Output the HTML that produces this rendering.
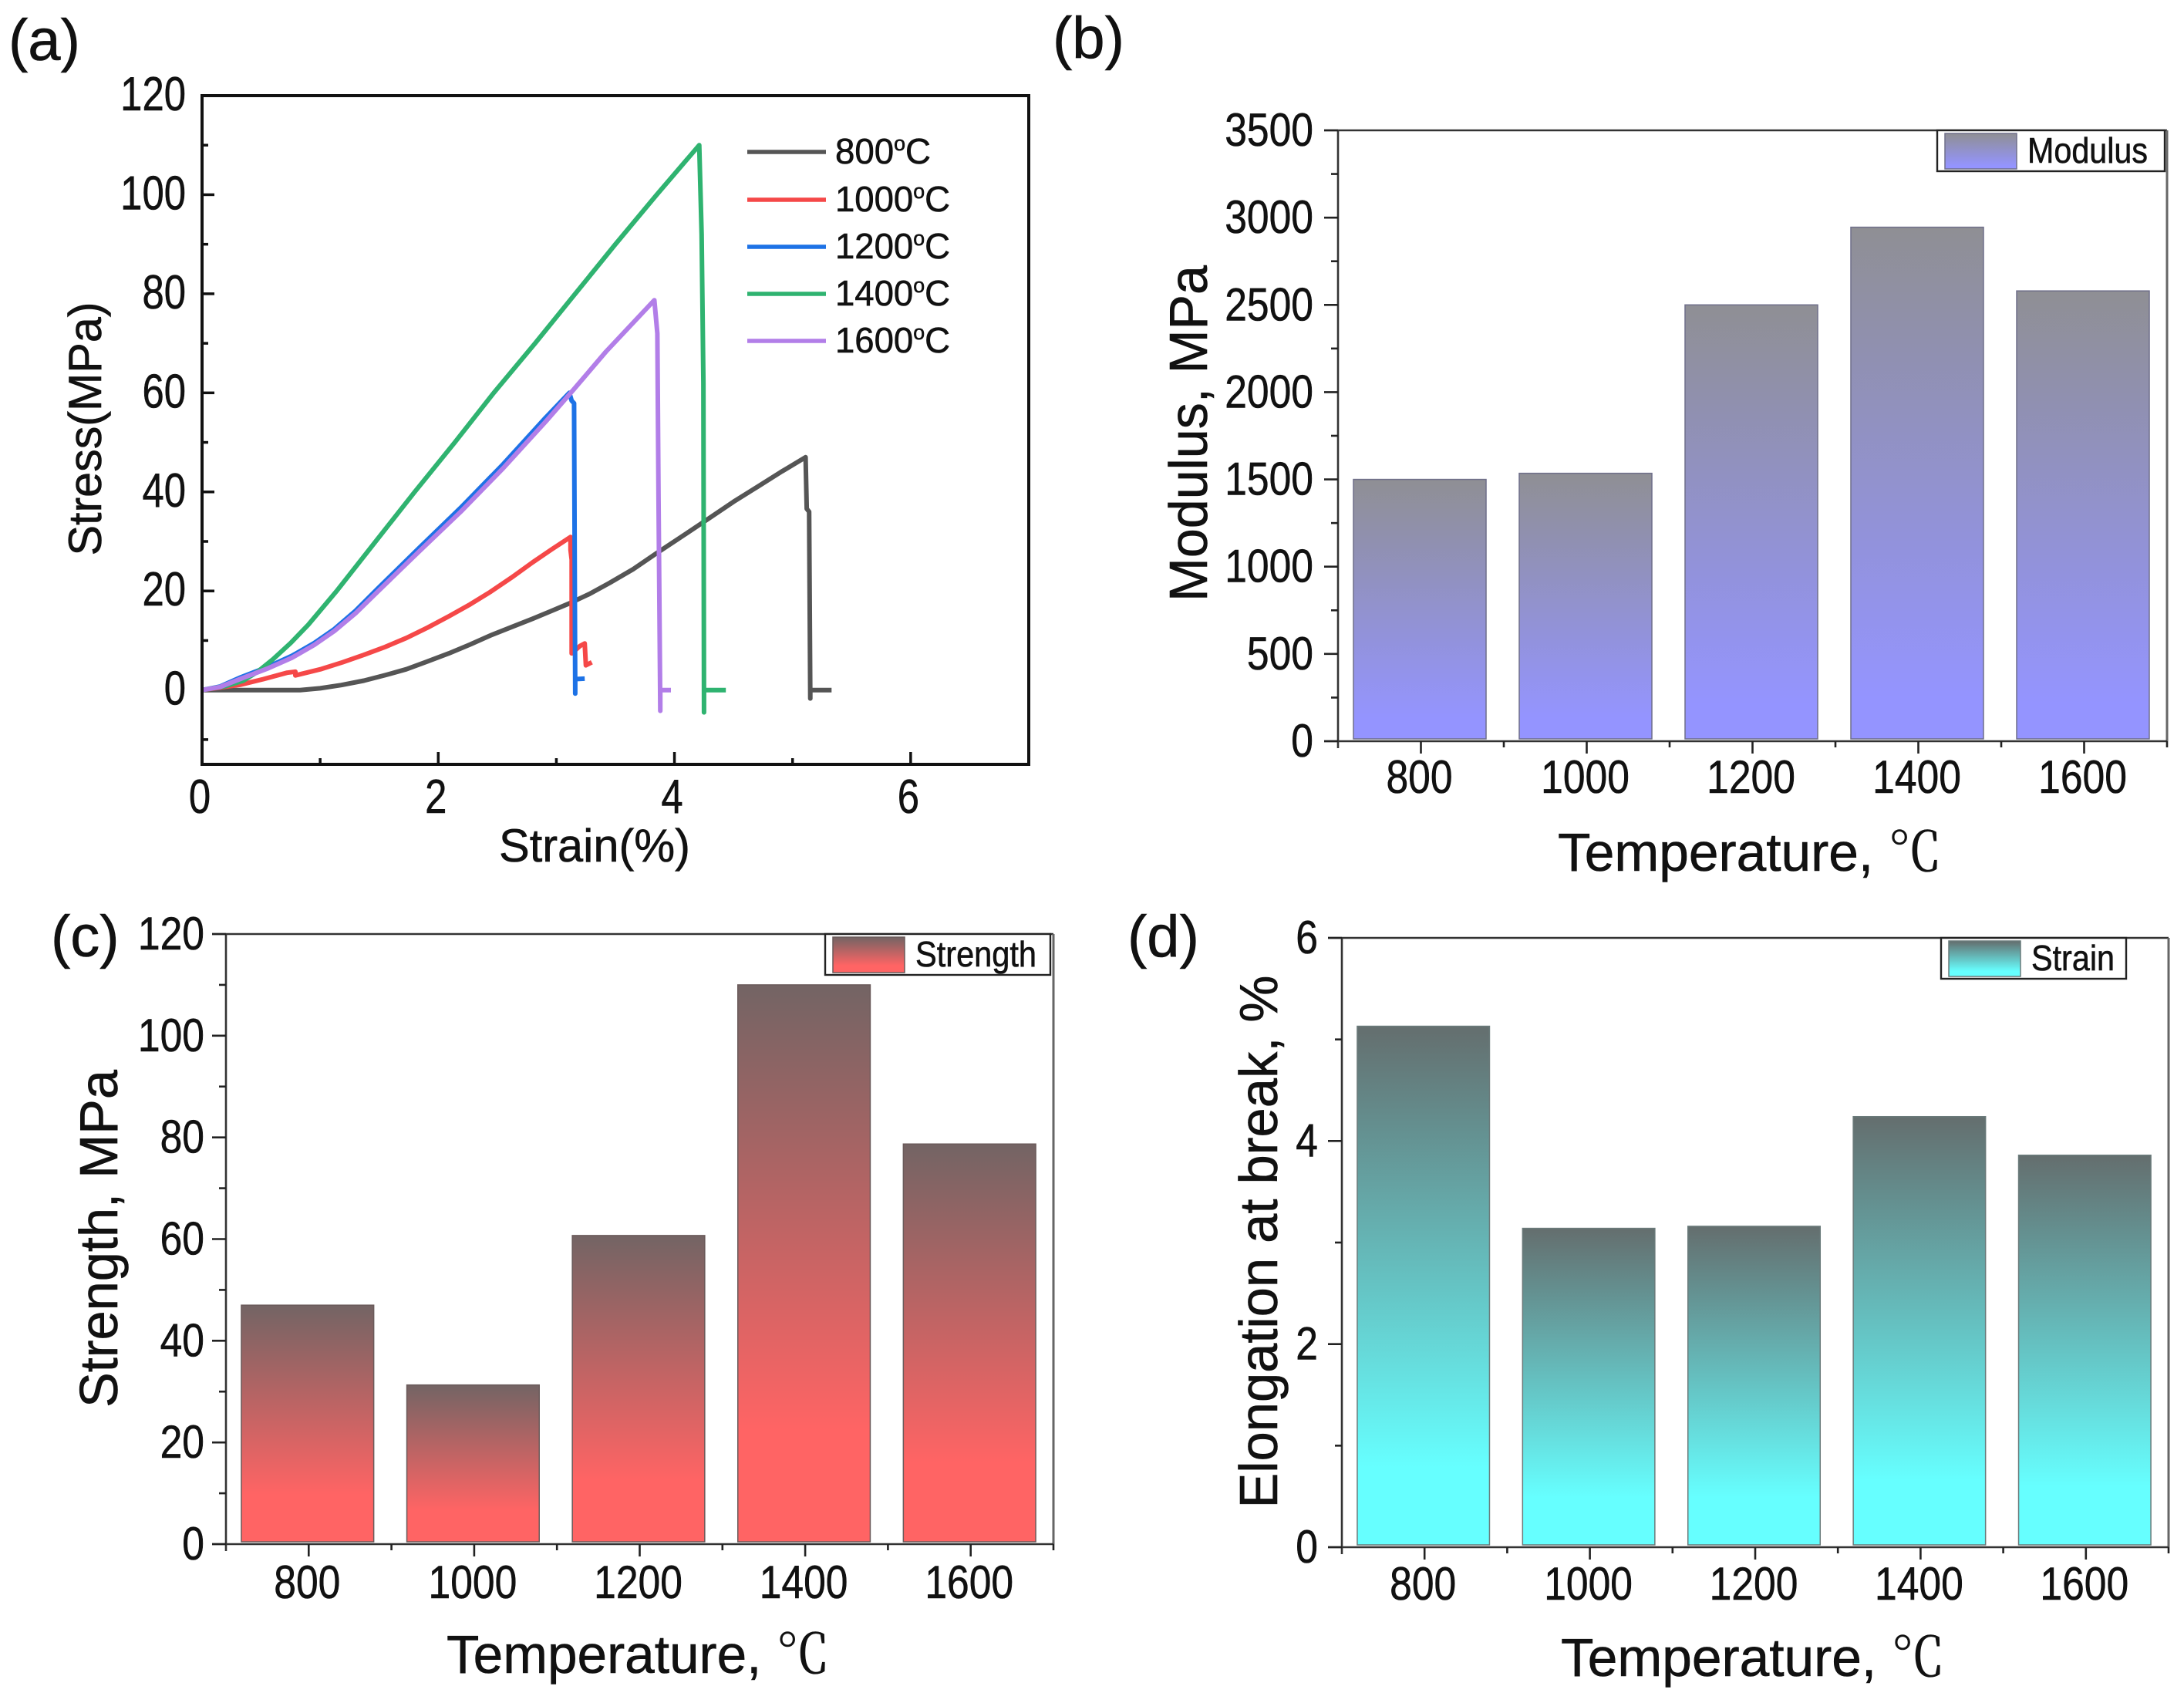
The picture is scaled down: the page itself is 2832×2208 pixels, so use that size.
<!DOCTYPE html>
<html lang="en">
<head>
<meta charset="utf-8">
<title>Mechanical properties versus temperature</title>
<style>
html,body{margin:0;padding:0;background:#fff;}
svg{display:block;}
text{font-family:"Liberation Sans","Noto Sans CJK SC",sans-serif;fill:#111;stroke:#111;stroke-width:0.6;}
.deg{font-family:"Noto Serif CJK SC","Noto Sans CJK SC",serif;}
</style>
</head>
<body>
<svg id="fig" xmlns="http://www.w3.org/2000/svg" width="2832" height="2208" viewBox="0 0 2832 2208">
<defs id="defs"></defs>
<rect width="2832" height="2208" fill="#ffffff"/>
<text x="11" y="78" font-size="76">(a)</text>
<text x="1365" y="75" font-size="76">(b)</text>
<text x="66" y="1240" font-size="76">(c)</text>
<text x="1462" y="1240" font-size="76">(d)</text>
<g id="panel-a"></g>
<g id="panel-b"></g>
<g id="panel-c"></g>
<g id="panel-d"></g>
</svg>
<script>
// ---- data ----
const temperatureLabels = ['800', '1000', '1200', '1400', '1600'];
const modulusValues = [1500, 1535, 2500, 2945, 2580];
const strengthValues = [47, 31.3, 60.7, 110, 78.7];
const elongationValues = [5.13, 3.14, 3.16, 4.24, 3.86];

const modulusTicks = [0, 500, 1000, 1500, 2000, 2500, 3000, 3500];
const strengthTicks = [0, 20, 40, 60, 80, 100, 120];
const elongationTicks = [0, 2, 4, 6];
const stressTicks = [0, 20, 40, 60, 80, 100, 120];
const strainTicks = [0, 2, 4, 6];

const strain800 = [0, 0.83, 1.0, 1.18, 1.37, 1.55, 1.73, 1.9, 2.09, 2.27, 2.44, 2.62, 2.8, 2.95, 3.11, 3.28, 3.45, 3.65, 3.84, 4.05, 4.27, 4.5, 4.7, 4.9, 5.11, 5.12, 5.14, 5.15, 5.15, 5.33];
const stress800 = [0, 0, 0.36, 1, 1.9, 3, 4.2, 5.7, 7.4, 9.2, 11, 12.7, 14.4, 15.9, 17.5, 19.4, 21.6, 24.4, 27.5, 30.8, 34.3, 38, 41, 44, 47, 36.6, 36, -1.7, 0, 0];
const strain1000 = [0, 0.33, 0.52, 0.72, 0.79, 0.79, 1.01, 1.19, 1.37, 1.55, 1.73, 1.91, 2.09, 2.27, 2.44, 2.62, 2.8, 2.96, 3.12, 3.12, 3.13, 3.13, 3.2, 3.24, 3.25, 3.3];
const stress1000 = [0, 1.1, 2.2, 3.5, 3.7, 2.95, 4.25, 5.6, 7.1, 8.7, 10.5, 12.6, 14.9, 17.3, 19.8, 22.7, 25.8, 28.4, 30.9, 28.3, 26.3, 7.4, 8.9, 9.4, 5, 5.6];
const strain1200 = [0, 0.15, 0.33, 0.55, 0.76, 0.95, 1.12, 1.3, 1.48, 1.83, 2.19, 2.55, 2.91, 3.11, 3.13, 3.15, 3.16, 3.16, 3.24];
const stress1200 = [0, 0.7, 2.6, 4.6, 6.9, 9.5, 12.3, 16, 20.3, 28.5, 36.8, 45.6, 55, 60, 58.4, 57.9, -0.7, 2.2, 2.3];
const strain1400 = [0, 0.2, 0.35, 0.47, 0.6, 0.75, 0.9, 1.14, 1.47, 1.8, 2.14, 2.47, 2.82, 3.16, 3.5, 3.85, 4.21, 4.23, 4.245, 4.25, 4.25, 4.435];
const stress1400 = [0, 0.8, 1.9, 3.7, 6.2, 9.5, 13.2, 20, 30, 40, 50, 60, 70, 80, 90, 100, 110, 92, 62, -4.5, 0, 0];
const strain1600 = [0, 0.15, 0.33, 0.55, 0.76, 0.95, 1.12, 1.3, 1.48, 1.83, 2.19, 2.55, 2.91, 3.14, 3.42, 3.83, 3.855, 3.865, 3.88, 3.88, 3.97];
const stress1600 = [0, 0.6, 2.3, 4.3, 6.5, 9.1, 11.9, 15.5, 19.7, 27.8, 36, 44.8, 54.2, 60.5, 68.3, 78.7, 72, 39, -4.2, 0, 0];

const curveLabels = ['800', '1000', '1200', '1400', '1600'];
const curveColors = ['#555555', '#f54848', '#1d72e6', '#2fb370', '#b27ee8'];
const curveStrains = [strain800, strain1000, strain1200, strain1400, strain1600];
const curveStresses = [stress800, stress1000, stress1200, stress1400, stress1600];

// ---- helpers ----
const NS = 'http://www.w3.org/2000/svg';
function make(tag, parent, props) {
  const e = document.createElementNS(NS, tag);
  for (const k in props) e.setAttribute(k, props[k]);
  parent.appendChild(e);
  return e;
}
function addLine(parent, x1, y1, x2, y2, w, c, name) {
  const l = make('line', parent, {x1: x1, y1: y1, x2: x2, y2: y2, stroke: c, 'stroke-width': w});
  
  
  return l;
}
function addText(parent, str, x, y, size, anchor, sx, name) {
  const t = make('text', parent, {'font-size': size, 'text-anchor': anchor, transform: 'translate(' + x + ' ' + y + ') scale(' + sx + ' 1)'});
  t.textContent = str;
  
  
  return t;
}
function addFitted(parent, str, x, y, size, len, rotate, name) {
  const t = make('text', parent, {'font-size': size, 'text-anchor': 'middle', textLength: len, lengthAdjust: 'spacingAndGlyphs',
    transform: 'translate(' + x + ' ' + y + ')' + (rotate ? ' rotate(-90)' : '')});
  t.textContent = str;
  
  
  return t;
}
function addTemperatureTitle(parent, x0, x1, y) {
  const mid = (x0 + x1) / 2;
  const t = make('text', parent, {'font-size': 70, 'text-anchor': 'middle', textLength: x1 - x0, lengthAdjust: 'spacingAndGlyphs',
    transform: 'translate(' + mid + ' ' + y + ')'});
  
  
  t.appendChild(document.createTextNode('Temperature, '));
  const s = make('tspan', t, {class: 'deg'});
  s.textContent = '\u2103';
}

// ---- bar panels ----
function barPanel(opt) {
  const g = document.getElementById(opt.id);
  const defs = document.getElementById('defs');
  const L = opt.left, R = opt.right, T = opt.top, B = opt.bottom;
  const n = temperatureLabels.length;
  const step = (R - L) / n;
  const xPos = i => L + step * (i + 0.5);
  const yPos = v => B - (v - opt.ticks[0]) / (opt.ticks[opt.ticks.length - 1] - opt.ticks[0]) * (B - T);
  const barW = step * 0.8;

  function gradient(id) {
    const lg = make('linearGradient', defs, {id: id, x1: 0, y1: 0, x2: 0, y2: 1});
    make('stop', lg, {offset: 0, 'stop-color': opt.topColor});
    make('stop', lg, {offset: opt.solidAt, 'stop-color': opt.bottomColor});
    make('stop', lg, {offset: 1, 'stop-color': opt.bottomColor});
  }

  opt.values.forEach(function (v, i) {
    const gid = opt.id + '-grad-' + i;
    gradient(gid);
    const top = yPos(v);
    const r = make('rect', g, {x: xPos(i) - barW / 2 - 1.5, y: top, width: barW, height: B - 3 - top, fill: 'url(#' + gid + ')', stroke: opt.edge, 'stroke-width': 1.5});
    
    
  });

  addLine(g, L - 18, T, R, T, 2.6, '#333', 'top-spine');
  addLine(g, R, T, R, B, 3, '#666', 'right-spine');
  addLine(g, L, T, L, B + 9, 2.6, '#333', 'y-axis-line');
  addLine(g, L - 18, B, R, B, 2.6, '#333', 'x-axis-line');

  opt.ticks.forEach(function (v, i) {
    const y = yPos(v);
    addLine(g, L - 18, y, L, y, 2.6, '#222', 'y-tick');
    addText(g, String(v), opt.yLabelRight, y + opt.yLabelDy, 60, 'end', 0.86, 'y-tick-label');
    if (i < opt.ticks.length - 1) {
      const ym = yPos((v + opt.ticks[i + 1]) / 2);
      addLine(g, L - 9, ym, L, ym, 2.6, '#222', 'y-minor-tick');
    }
  });
  temperatureLabels.forEach(function (lab, i) {
    addLine(g, xPos(i), B, xPos(i), B + 16, 2.6, '#222', 'x-tick');
    addLine(g, L + step * (i + 1), B, L + step * (i + 1), B + 8, 2.6, '#222', 'x-minor-tick');
    addText(g, lab, xPos(i) - 2, opt.xLabelY, 60, 'middle', 0.86, 'x-tick-label');
  });

  addFitted(g, opt.yTitle, opt.yTitleX, opt.yTitleY, 70, opt.yTitleLen, true, 'y-axis-title');
  addTemperatureTitle(g, opt.xTitle0, opt.xTitle1, opt.xTitleY);

  // legend
  const lb = make('rect', g, {x: opt.lgX, y: T, width: opt.lgW, height: 53, fill: '#fff', stroke: '#222', 'stroke-width': 2.4});
  
  
  const lgid = opt.id + '-grad-legend';
  gradient(lgid);
  const sw = make('rect', g, {x: opt.lgX + 10, y: T + 4, width: 93, height: 46, fill: 'url(#' + lgid + ')', stroke: opt.edge, 'stroke-width': 1.5});
  
  
  const lt = make('text', g, {x: opt.lgX + 117, y: T + 42, 'font-size': 46, textLength: opt.lgTextLen, lengthAdjust: 'spacingAndGlyphs'});
  lt.textContent = opt.legend;
  
  
}

barPanel({id: 'panel-b', left: 1735, right: 2810, top: 169, bottom: 961, ticks: modulusTicks, values: modulusValues,
  topColor: '#8f8f94', bottomColor: '#9494ff', solidAt: 0.92, edge: '#6f6f8a',
  yLabelRight: 1703, yLabelDy: 20, xLabelY: 1028, yTitle: 'Modulus, MPa', yTitleX: 1565, yTitleY: 562, yTitleLen: 436,
  xTitle0: 2020, xTitle1: 2518, xTitleY: 1129, lgX: 2512, lgW: 295, legend: 'Modulus', lgTextLen: 156});
barPanel({id: 'panel-c', left: 293, right: 1366, top: 1211, bottom: 2002, ticks: strengthTicks, values: strengthValues,
  topColor: '#736464', bottomColor: '#ff6464', solidAt: 0.8, edge: '#6a5a5a',
  yLabelRight: 265, yLabelDy: 20, xLabelY: 2072, yTitle: 'Strength, MPa', yTitleX: 152, yTitleY: 1606, yTitleLen: 438,
  xTitle0: 579, xTitle1: 1076, xTitleY: 2169, lgX: 1070, lgW: 292, legend: 'Strength', lgTextLen: 157});
barPanel({id: 'panel-d', left: 1740, right: 2812, top: 1216, bottom: 2006, ticks: elongationTicks, values: elongationValues,
  topColor: '#646e6e', bottomColor: '#66ffff', solidAt: 0.85, edge: '#6a7a7a',
  yLabelRight: 1709, yLabelDy: 20, xLabelY: 2074, yTitle: 'Elongation at break, %', yTitleX: 1656, yTitleY: 1610, yTitleLen: 691,
  xTitle0: 2024, xTitle1: 2522, xTitleY: 2173, lgX: 2517, lgW: 240, legend: 'Strain', lgTextLen: 108});

// ---- stress-strain panel ----
(function () {
  const g = document.getElementById('panel-a');
  const L = 262, R = 1334, T = 124, B = 991;
  const xPos = v => L + v / 7 * (R - L);
  const yPos = v => B - (v + 15) / 135 * (B - T);

  curveLabels.forEach(function (lab, s) {
    const pts = curveStrains[s].map((x, i) => xPos(x).toFixed(1) + ',' + yPos(curveStresses[s][i]).toFixed(1)).join(' ');
    const p = make('polyline', g, {points: pts, fill: 'none', stroke: curveColors[s], 'stroke-width': 6, 'stroke-linejoin': 'round'});
    
    
  });

  const fr = make('rect', g, {x: L, y: T, width: R - L, height: B - T, fill: 'none', stroke: '#111', 'stroke-width': 4});
  
  

  stressTicks.forEach(function (v, i) {
    const y = yPos(v);
    if (i > 0 && i < stressTicks.length - 1) addLine(g, L, y, L + 16, y, 3.5, '#111', 'y-tick');
    addText(g, String(v), 241, y + 19, 62, 'end', 0.82, 'y-tick-label');
    if (i < stressTicks.length - 1) addLine(g, L, yPos(v + 10), L + 8, yPos(v + 10), 3.5, '#111', 'y-minor-tick');
  });
  addLine(g, L, yPos(-10), L + 8, yPos(-10), 3.5, '#111', 'y-minor-tick');
  strainTicks.forEach(function (v, i) {
    if (v > 0) addLine(g, xPos(v), B, xPos(v), B - 16, 3.5, '#111', 'x-tick');
    addLine(g, xPos(v + 1), B, xPos(v + 1), B - 8, 3.5, '#111', 'x-minor-tick');
    addText(g, String(v), xPos(v) - 3, 1054, 62, 'middle', 0.82, 'x-tick-label');
  });

  addFitted(g, 'Stress(MPa)', 131, 556, 60, 329, true, 'y-axis-title');
  addFitted(g, 'Strain(%)', 771, 1117, 60, 248, false, 'x-axis-title');

  const legendRowY = [197, 259, 320, 381, 442];
  curveLabels.forEach(function (lab, s) {
    addLine(g, 969, legendRowY[s], 1071, legendRowY[s], 5.5, curveColors[s], 'legend-line-' + lab);
    const t = make('text', g, {x: 1083, y: legendRowY[s] + 15, 'font-size': 46, textLength: lab.length === 3 ? 124 : 149, lengthAdjust: 'spacingAndGlyphs'});
    
    
    t.appendChild(document.createTextNode(lab));
    const o = make('tspan', t, {dy: -17, 'font-size': 27});
    o.textContent = 'o';
    const c = make('tspan', t, {dy: 17});
    c.textContent = 'C';
  });
})();
</script>
</body>
</html>
